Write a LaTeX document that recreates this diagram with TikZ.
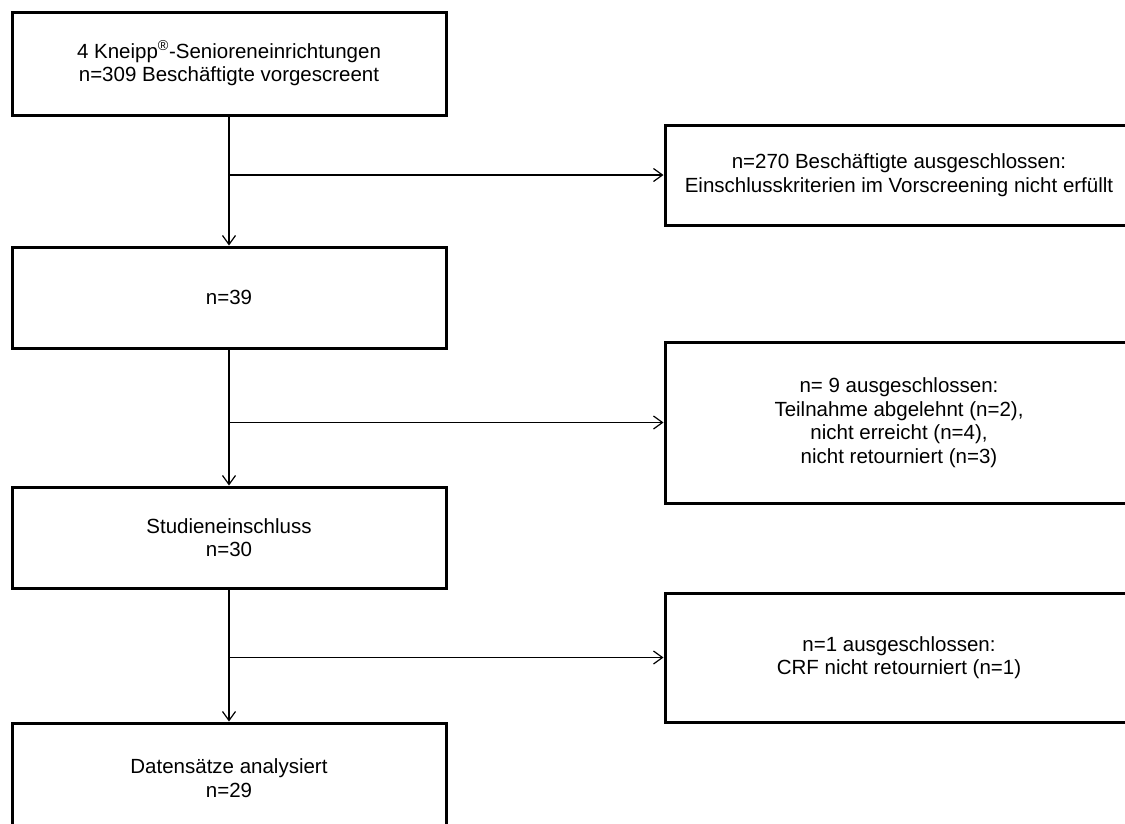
\documentclass[tikz,border=0pt]{standalone}
\usepackage{fontspec}
\setmainfont{Liberation Sans}
\usetikzlibrary{arrows.meta}
\begin{document}
\begin{tikzpicture}[x=1pt,y=-1pt,font=\fontsize{20.5}{23.5}\selectfont,
  flowbox/.style={draw,line width=3pt,align=center,inner sep=0pt,minimum width=434pt},
  exclbox/.style={draw,line width=3pt,align=center,inner sep=0pt,minimum width=468pt},
  arr/.style={line width=1.2pt,-{Straight Barb[length=9pt,width=13pt,line width=1.2pt]}}]
\useasboundingbox (0,0) rectangle (1125,823);
\clip (0,0) rectangle (1125,823);
% main column
\node[flowbox,minimum height=103pt] (screen) at (229,63.5) {4 Kneipp\textsuperscript{®}-Senioreneinrichtungen\\n=309 Beschäftigte vorgescreent};
\node[flowbox,minimum height=101pt] (pool) at (229,297.5) {n=39};
\node[flowbox,minimum height=101pt] (incl) at (229,537.5) {Studieneinschluss\\n=30};
\node[flowbox,minimum height=110pt] (anal) at (229,778) {Datensätze analysiert\\n=29};
% exclusions
\node[exclbox,minimum height=100pt] (excl1) at (899,175) {n=270 Beschäftigte ausgeschlossen:\\Einschlusskriterien im Vorscreening nicht erfüllt};
\node[exclbox,minimum height=161pt] (excl2) at (899,422.5) {n= 9 ausgeschlossen:\\Teilnahme abgelehnt (n=2),\\nicht erreicht (n=4),\\nicht retourniert (n=3)};
\node[exclbox,minimum height=129pt] (excl3) at (899,657.5) {n=1 ausgeschlossen:\\CRF nicht retourniert (n=1)};
\draw[arr] (screen) -- (pool);
\draw[arr] (pool) -- (incl);
\draw[arr] (incl) -- (anal);
\draw[arr] (screen.south |- excl1.west) -- (excl1.west);
\draw[arr] (pool.south |- excl2.west) -- (excl2.west);
\draw[arr] (incl.south |- excl3.west) -- (excl3.west);
\end{tikzpicture}
\end{document}
